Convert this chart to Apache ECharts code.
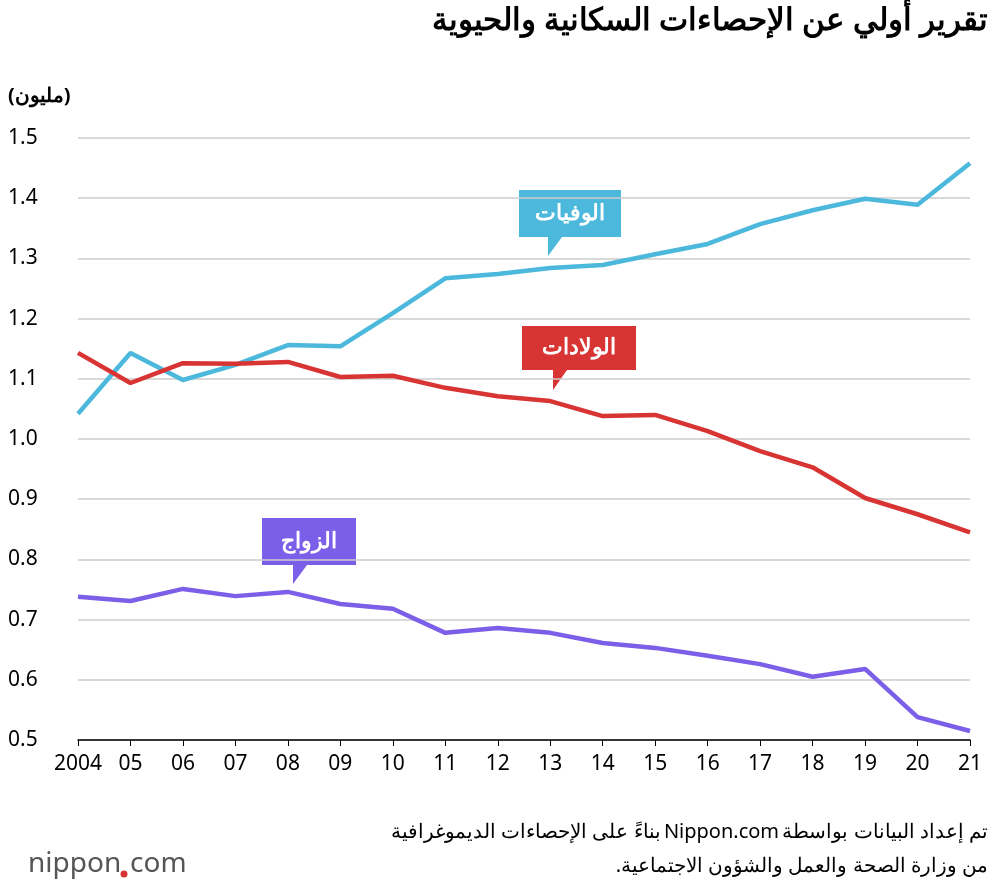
<!DOCTYPE html><html><head><meta charset="utf-8">
<script src="https://cdn.jsdelivr.net/npm/echarts@6/dist/echarts.min.js"></script>
<style>body{margin:0}#c{width:1000px;height:890px}</style></head><body><div id="c"></div><script>
const years=['2004','05','06','07','08','09','10','11','12','13','14','15','16','17','18','19','20','21'];
const deaths=[1.042,1.143,1.098,1.123,1.156,1.154,1.209,1.267,1.274,1.284,1.289,1.307,1.324,1.357,1.380,1.399,1.389,1.458];
const births=[1.143,1.093,1.126,1.125,1.128,1.103,1.105,1.085,1.071,1.063,1.038,1.040,1.013,0.980,0.953,0.902,0.875,0.845];
const marriages=[0.738,0.731,0.751,0.739,0.746,0.726,0.718,0.678,0.686,0.678,0.661,0.653,0.640,0.626,0.605,0.618,0.538,0.515];
const F='"Noto Sans",sans-serif';
function box(x,y,w,h,px,py,color,text){
 return [{type:'polygon',shape:{points:[[x,y],[x+w,y],[x+w,y+h],[px+14,y+h],[px,py],[px,y+h],[x,y+h]]},style:{fill:color}},
 {type:'text',x:x+w/2,y:y+h/2,style:{text:text,fill:'#fff',font:'bold 22px '+F,align:'center',verticalAlign:'middle'}}];
}
const c=echarts.init(document.getElementById('c'));
const rs={fontSize:20,fontFamily:F,color:'#000'};
c.setOption({animation:false,
grid:{left:78,right:30,top:138,bottom:150},
xAxis:{type:'category',data:years,boundaryGap:false,axisLine:{lineStyle:{color:'#000',width:1.5}},axisTick:{alignWithLabel:true,length:6,lineStyle:{color:'#000'}},axisLabel:{color:'#000',fontSize:21,fontFamily:F,margin:14,interval:0}},
yAxis:{type:'value',min:0.5,max:1.5,interval:0.1,axisLine:{show:false},axisTick:{show:false},splitLine:{lineStyle:{color:'#ccc',width:1.5}},
 axisLabel:{color:'#000',fontSize:21,fontFamily:F,align:'left',margin:70,formatter:v=>v.toFixed(1)}},
series:[
{type:'line',data:deaths,symbol:'none',lineStyle:{color:'#4bb8dc',width:4.5}},
{type:'line',data:births,symbol:'none',lineStyle:{color:'#d93434',width:4.5}},
{type:'line',data:marriages,symbol:'none',lineStyle:{color:'#7b5fe8',width:4.5}}],
graphic:[
{type:'text',right:12,top:6,style:{text:'تقرير أولي عن الإحصاءات السكانية والحيوية',font:'bold 31px '+F,fill:'#000'}},
{type:'text',left:8,top:86,style:{text:'(مليون)',font:'bold 20px '+F,fill:'#000'}},
...box(519,190,102,47,548,256,'#4bb8dc','الوفيات'),
...box(522,326,114,44,553,390,'#d93434','الولادات'),
...box(262,518,94,47,293,584,'#7b5fe8','الزواج'),
{type:'text',right:12,top:822,style:{text:'{a|بناءً على الإحصاءات الديموغرافية} {a|Nippon.com} {a|تم إعداد البيانات بواسطة}',rich:{a:rs}}},
{type:'text',right:12,top:856,style:{text:'{a|.}{a|من وزارة الصحة والعمل والشؤون الاجتماعية}',rich:{a:rs}}},
{type:'text',left:28,top:850,style:{text:'nippon',font:'28px '+F,fill:'#555'}},
{type:'circle',shape:{cx:124,cy:874,r:3.5},style:{fill:'#d93434'}},
{type:'text',left:130,top:850,style:{text:'com',font:'28px '+F,fill:'#555'}}
]});
</script></body></html>
